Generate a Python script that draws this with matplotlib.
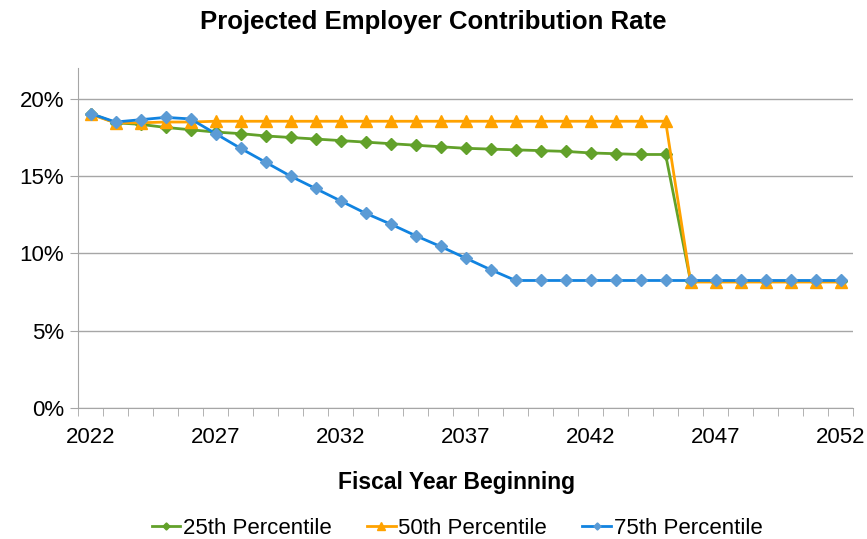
import matplotlib.pyplot as plt
import numpy as np
from matplotlib.ticker import PercentFormatter, FixedLocator

plt.rcParams['font.family'] = ['Liberation Sans', 'DejaVu Sans']

# fiscal years and projected rates (%)
years = list(range(2022, 2053))
p25 = [19.05, 18.45, 18.35, 18.15, 18.0, 17.85, 17.75, 17.6, 17.5, 17.4, 17.3,
       17.2, 17.1, 17.0, 16.9, 16.8, 16.75, 16.7, 16.65, 16.6, 16.5, 16.45,
       16.4, 16.4, 8.2, 8.2, 8.2, 8.2, 8.2, 8.2, 8.2]
p50 = [19.0, 18.45, 18.45, 18.5, 18.5, 18.55, 18.55, 18.55, 18.55, 18.55, 18.55,
       18.55, 18.55, 18.55, 18.55, 18.55, 18.55, 18.55, 18.55, 18.55, 18.55, 18.55,
       18.55, 18.55, 8.15, 8.15, 8.15, 8.15, 8.15, 8.15, 8.15]
p75 = [19.05, 18.5, 18.65, 18.8, 18.7, 17.75, 16.8, 15.9, 15.0, 14.2, 13.4,
       12.6, 11.9, 11.15, 10.45, 9.7, 8.95, 8.25, 8.25, 8.25, 8.25, 8.25,
       8.25, 8.25, 8.25, 8.25, 8.25, 8.25, 8.25, 8.25, 8.25]

x = np.arange(len(years))

fig = plt.figure(figsize=(8.67, 5.39), dpi=100)
ax = fig.add_axes([0.09, 0.243, 0.894, 0.631])

ax.plot(x, p25, color='#62A12A', lw=2, marker='D', ms=6,
        mfc='#62A12A', mec='#62A12A', label='25th Percentile')
ax.plot(x, p50, color='#FFA200', lw=2, marker='^', ms=8.5,
        mfc='#FFA200', mec='#FFA200', label='50th Percentile')
ax.plot(x, p75, color='#1183E0', lw=2, marker='D', ms=6,
        mfc='#5B9BD5', mec='#5B9BD5', label='75th Percentile')

ax.set_ylim(0, 22)
ax.set_xlim(-0.5, len(years) - 0.5)
ax.set_yticks([0, 5, 10, 15, 20])
ax.yaxis.set_major_formatter(PercentFormatter(decimals=0))
ax.grid(axis='y', color='#A6A6A6', lw=1)
ax.set_axisbelow(True)

ax.set_xticks(x[::5])
ax.set_xticklabels([str(y) for y in years[::5]])
ax.xaxis.set_minor_locator(FixedLocator(np.arange(-0.5, len(years), 1)))
ax.tick_params(axis='x', which='major', length=0, pad=14, labelsize=16)
ax.tick_params(axis='x', which='minor', length=6, color='#A6A6A6')
ax.tick_params(axis='y', length=6, color='#A6A6A6', labelsize=16, pad=4)

for s in ['top', 'right']:
    ax.spines[s].set_visible(False)
for s in ['left', 'bottom']:
    ax.spines[s].set_color('#A6A6A6')

fig.suptitle('Projected Employer Contribution Rate', fontsize=18.5, fontweight='bold', y=0.982)
ax.set_xlabel('Fiscal Year Beginning', fontsize=16.5, fontweight='bold')
ax.xaxis.set_label_coords(0.488, -0.185)

fig.legend(loc='center', bbox_to_anchor=(0.527, 0.02), ncol=3, frameon=False,
           fontsize=16, handlelength=1.3, handletextpad=0.1, columnspacing=1.6,
           markerscale=0.6)

fig.savefig('out.png', dpi=100)
